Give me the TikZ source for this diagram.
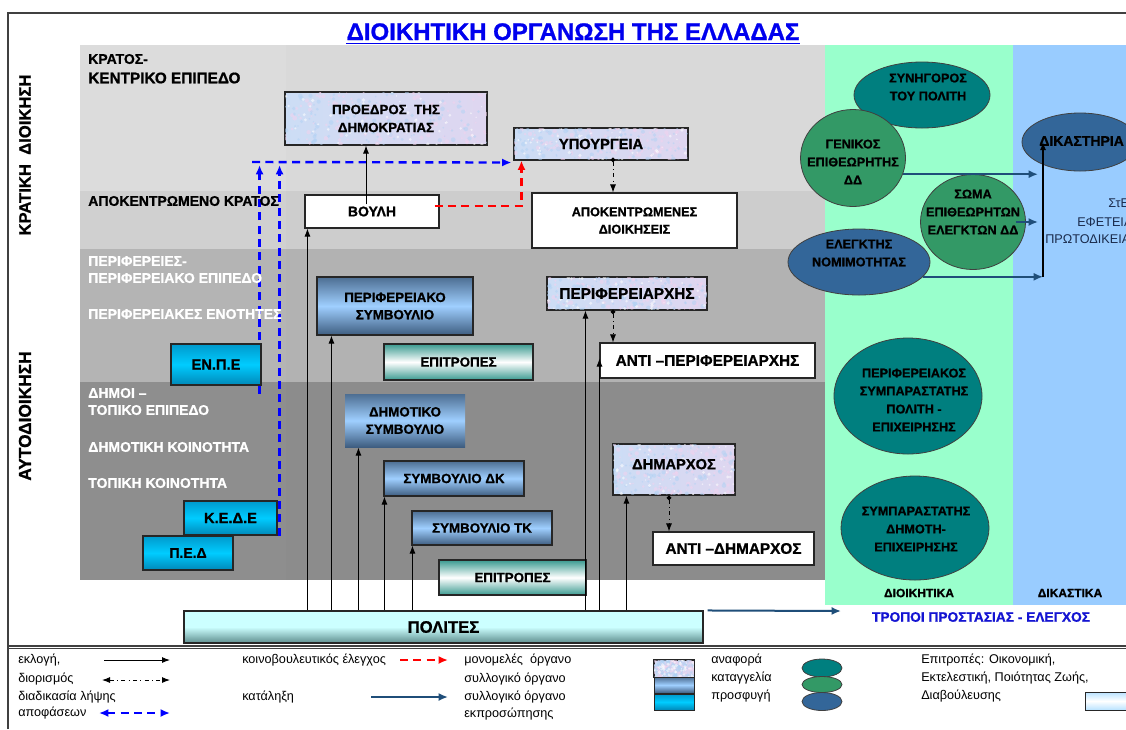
\documentclass[tikz,border=0pt]{standalone}
\usepackage{fontspec}
\setmainfont{Liberation Sans}[BoldFeatures={FakeBold=1}]
\usetikzlibrary{shapes.geometric,arrows.meta,calc}
\definecolor{rowA}{HTML}{D9D9D9}
\definecolor{rowAl}{HTML}{DCDCDC}
\definecolor{rowB}{HTML}{CDCDCD}
\definecolor{rowBl}{HTML}{D0D0D0}
\definecolor{rowC}{HTML}{B2B2B2}
\definecolor{rowCl}{HTML}{B4B4B4}
\definecolor{rowD}{HTML}{8C8C8C}
\definecolor{rowDl}{HTML}{8E8E8E}
\definecolor{greenband}{HTML}{99FFCC}
\definecolor{blueband}{HTML}{99CCFF}
\definecolor{tealE}{HTML}{007F7F}
\definecolor{greenE}{HTML}{339966}
\definecolor{blueE}{HTML}{336699}
\definecolor{navy}{HTML}{1F4E79}
\definecolor{titleblue}{HTML}{0000EE}
\definecolor{tropblue}{HTML}{1414D2}
\definecolor{dashblue}{HTML}{0000FF}
\definecolor{texA}{HTML}{CCDDF5}
\definecolor{texB}{HTML}{DFD6F0}
\definecolor{spPink}{HTML}{F2D2EE}
\definecolor{spBlue}{HTML}{B0D2F4}
\definecolor{bbTop}{HTML}{4D6E92}
\definecolor{bbMid}{HTML}{9FCFFF}
\definecolor{bbBot}{HTML}{3E5D80}
\definecolor{cyTop}{HTML}{0099CC}
\definecolor{cyMid}{HTML}{00CCFF}
\definecolor{cyBot}{HTML}{0088B8}
\definecolor{epEdge}{HTML}{3A9A90}
\definecolor{polTop}{HTML}{CCFFFF}
\definecolor{polBot}{HTML}{5E8E8E}
\definecolor{framec}{HTML}{404040}
\definecolor{courtxt}{HTML}{1A2B4C}
\definecolor{lgTop}{HTML}{B8E2FF}
\pgfdeclarelayer{bg}
\pgfdeclarelayer{mid}
\pgfsetlayers{bg,mid,main}
\newcommand\fs[2]{\fontsize{#1}{#2}\selectfont}
\newcommand\mkbox[7]{%
  \pgfmathsetmacro\mkw{((#5)-(#3))*0.75}%
  \pgfmathsetmacro\mkh{((#6)-(#4))*0.75}%
  \node[#2,minimum width=\mkw pt,minimum height=\mkh pt] (#1) at ({((#3)+(#5))/2},{((#4)+(#6))/2}) {#7};}
% mottled ("tissue paper") box: frame, speckles, then the text as its own node
\newcommand\speckle[1]{%
  \begin{scope}
  \clip (#1.south west) rectangle (#1.north east);
  \foreach \i in {1,...,110}{%
    \pgfmathsetmacro\ra{rnd}\pgfmathsetmacro\rb{rnd}\pgfmathsetmacro\rr{0.6+1.2*rnd}%
    \coordinate (spA) at ($(#1.south west)!\ra!(#1.south east)$);
    \coordinate (spB) at ($(#1.north west)!\ra!(#1.north east)$);
    \fill[spPink, opacity=0.55] ($(spA)!\rb!(spB)$) circle (\rr pt);}
  \foreach \i in {1,...,110}{%
    \pgfmathsetmacro\ra{rnd}\pgfmathsetmacro\rb{rnd}\pgfmathsetmacro\rr{0.6+1.2*rnd}%
    \coordinate (spA) at ($(#1.south west)!\ra!(#1.south east)$);
    \coordinate (spB) at ($(#1.north west)!\ra!(#1.north east)$);
    \fill[spBlue, opacity=0.5] ($(spA)!\rb!(spB)$) circle (\rr pt);}
  \foreach \i in {1,...,60}{%
    \pgfmathsetmacro\ra{rnd}\pgfmathsetmacro\rb{rnd}\pgfmathsetmacro\rr{0.5+0.9*rnd}%
    \coordinate (spA) at ($(#1.south west)!\ra!(#1.south east)$);
    \coordinate (spB) at ($(#1.north west)!\ra!(#1.north east)$);
    \fill[white, opacity=0.55] ($(spA)!\rb!(spB)$) circle (\rr pt);}
  \end{scope}
  \draw[black!85, line width=0.8pt] (#1.south west) rectangle (#1.north east);}
\newcommand\texbox[7]{%
  \mkbox{#1}{texbx}{#3}{#4}{#5}{#6}{}%
  \speckle{#1}%
  \node[inner sep=0pt, align=center, #2] (#1t) at (#1.center) {#7};}
\tikzset{
  bx/.style={draw=black!85, line width=0.8pt, inner sep=0pt, align=center},
  whitebx/.style={bx, fill=white},
  texbx/.style={bx, left color=texA, right color=texB},
  bluebx/.style={bx, top color=bbTop, bottom color=bbBot, middle color=bbMid},
  cyanbx/.style={bx, top color=cyTop, bottom color=cyBot, middle color=cyMid},
  epibx/.style={bx, top color=epEdge, bottom color=epEdge, middle color=white},
  polbx/.style={bx, top color=polTop, bottom color=polBot, middle color=polTop},
  lgbx/.style={bx, top color=lgTop, bottom color=lgTop, middle color=white},
  ell/.style={ellipse, draw=black!75, line width=0.6pt, inner sep=0pt},
  elltxt/.style={align=center, font=\bfseries\fs{9.5}{13.5}, inner sep=0pt},
  rowlab/.style={anchor=west, inner sep=0pt, font=\bfseries\fs{10.5}{13}},
  legtxt/.style={anchor=west, inner sep=0pt, font=\fs{9.5}{11}},
  arr/.style={draw=black, line width=0.7pt, -{Latex[length=6pt,width=4.5pt]}},
  apptarr/.style={draw=black, line width=0.7pt, dash pattern=on 3pt off 2.5pt on 0.8pt off 2.5pt,
    {Circle[length=3.5pt]}-{Latex[length=6pt,width=4.5pt]}},
  bluedash/.style={draw=dashblue, line width=1.8pt, dash pattern=on 6pt off 4pt,
    -{Latex[length=7pt,width=6pt]}},
  reddash/.style={draw=red, line width=1.6pt, dash pattern=on 6pt off 4pt,
    -{Latex[length=7pt,width=6pt]}},
  navyarr/.style={draw=navy, line width=1.5pt, -{Latex[length=7pt,width=6pt]}},
}
\begin{document}
\begin{tikzpicture}[x=0.75pt,y=-0.75pt]
\pgfmathsetseed{7}
\useasboundingbox (0,0) rectangle (1126,729);
\clip (0,0) rectangle (1126,729);
\begin{pgfonlayer}{bg}
\fill[white] (0,0) rectangle (1126,729);
\fill[rowAl] (80,45) rectangle (286,191);
\fill[rowA] (286,45) rectangle (825,191);
\fill[rowBl] (80,191) rectangle (286,249);
\fill[rowB] (286,191) rectangle (825,249);
\fill[rowCl] (80,249) rectangle (286,382);
\fill[rowC] (286,249) rectangle (825,382);
\fill[rowDl] (80,382) rectangle (286,580);
\fill[rowD] (286,382) rectangle (825,580);
\fill[greenband] (825,45) rectangle (1013,605);
\fill[blueband] (1013,45) rectangle (1126,605);
\draw[framec, line width=1pt] (8,729) -- (8,13) -- (1126,13);
\draw[framec, line width=0.9pt] (8,646) -- (1126,646);
\draw[framec, line width=0.6pt] (8,648.5) -- (1126,648.5);
\end{pgfonlayer}

% title
\node[font=\bfseries\fs{18}{22}, text=titleblue, anchor=base, inner sep=0pt] (title) at (573,40) {ΔΙΟΙΚΗΤΙΚΗ ΟΡΓΑΝΩΣΗ ΤΗΣ ΕΛΛΑΔΑΣ};
\draw[titleblue, line width=1.3pt] ($(title.base west)+(0,3.5)$) -- ($(title.base east)+(0,3.5)$);

% side labels
\node[rotate=90, inner sep=0pt, font=\bfseries\fs{12.5}{14}] (kratiki) at (25,155) {ΚΡΑΤΙΚΗ\ \ ΔΙΟΙΚΗΣΗ};
\node[rotate=90, inner sep=0pt, font=\bfseries\fs{13}{14}] (aytodioik) at (25,416) {ΑΥΤΟΔΙΟΙΚΗΣΗ};

% row labels
\node[rowlab] (l1) at (88,59) {ΚΡΑΤΟΣ-};
\node[rowlab, font=\bfseries\fs{11.5}{13}] (l2) at (88,78) {ΚΕΝΤΡΙΚΟ ΕΠΙΠΕΔΟ};
\node[rowlab] (l3) at (88,201) {ΑΠΟΚΕΝΤΡΩΜΕΝΟ ΚΡΑΤΟΣ};
\node[rowlab, text=white] (l4) at (88,261) {ΠΕΡΙΦΕΡΕΙΕΣ-};
\node[rowlab, text=white] (l5) at (88,278) {ΠΕΡΙΦΕΡΕΙΑΚΟ ΕΠΙΠΕΔΟ};
\node[rowlab, text=white] (l6) at (88,314) {ΠΕΡΙΦΕΡΕΙΑΚΕΣ ΕΝΟΤΗΤΕΣ};
\node[rowlab, text=white] (l7) at (88,393) {ΔΗΜΟΙ –};
\node[rowlab, text=white] (l8) at (88,410) {ΤΟΠΙΚΟ ΕΠΙΠΕΔΟ};
\node[rowlab, text=white] (l9) at (88,447) {ΔΗΜΟΤΙΚΗ ΚΟΙΝΟΤΗΤΑ};
\node[rowlab, text=white] (l10) at (88,483) {ΤΟΠΙΚΗ ΚΟΙΝΟΤΗΤΑ};

% boxes
\texbox{proedros}{font=\bfseries\fs{10}{13.5}}{285}{92}{487}{145}{ΠΡΟΕΔΡΟΣ\ \ ΤΗΣ\\ΔΗΜΟΚΡΑΤΙΑΣ}
\texbox{ypo}{font=\bfseries\fs{11}{13}}{514}{128}{688}{160}{ΥΠΟΥΡΓΕΙΑ}
\mkbox{vouli}{whitebx, font=\bfseries\fs{10.5}{13}}{305}{195}{439}{228}{ΒΟΥΛΗ}
\mkbox{apok}{whitebx, font=\bfseries\fs{9.5}{13}}{532}{193}{737}{248}{ΑΠΟΚΕΝΤΡΩΜΕΝΕΣ\\ΔΙΟΙΚΗΣΕΙΣ}
\mkbox{persymv}{bluebx, font=\bfseries\fs{10}{13}}{317}{277}{473}{335}{ΠΕΡΙΦΕΡΕΙΑΚΟ\\ΣΥΜΒΟΥΛΙΟ}
\mkbox{epit1}{epibx, font=\bfseries\fs{10}{13}}{384}{344}{533}{380}{ΕΠΙΤΡΟΠΕΣ}
\texbox{perarx}{font=\bfseries\fs{11.5}{13}}{547}{277}{707}{310}{ΠΕΡΙΦΕΡΕΙΑΡΧΗΣ}
\mkbox{antiper}{whitebx, font=\bfseries\fs{11.5}{13}}{600}{343}{815}{378}{ΑΝΤΙ –ΠΕΡΙΦΕΡΕΙΑΡΧΗΣ}
\mkbox{enpe}{cyanbx, font=\bfseries\fs{11}{13}}{171}{344}{261}{385}{ΕΝ.Π.Ε}
\mkbox{dimsymv}{bluebx, draw=none, font=\bfseries\fs{10}{13}}{345}{394}{465}{447}{ΔΗΜΟΤΙΚΟ\\ΣΥΜΒΟΥΛΙΟ}
\mkbox{symdk}{bluebx, font=\bfseries\fs{10}{13}}{384}{461}{524}{496}{ΣΥΜΒΟΥΛΙΟ ΔΚ}
\mkbox{symtk}{bluebx, font=\bfseries\fs{10}{13}}{412}{511}{552}{545}{ΣΥΜΒΟΥΛΙΟ ΤΚ}
\mkbox{epit2}{epibx, font=\bfseries\fs{10}{13}}{439}{560}{586}{595}{ΕΠΙΤΡΟΠΕΣ}
\texbox{dimarx}{font=\bfseries\fs{11}{13}, yshift=4pt}{613}{444}{735}{495}{ΔΗΜΑΡΧΟΣ}
\mkbox{antidim}{whitebx, font=\bfseries\fs{11.5}{13}}{653}{532}{814}{565}{ΑΝΤΙ –ΔΗΜΑΡΧΟΣ}
\mkbox{kede}{cyanbx, font=\bfseries\fs{11}{13}}{184}{501}{277}{535}{Κ.Ε.Δ.Ε}
\mkbox{ped}{cyanbx, font=\bfseries\fs{10.5}{13}}{143}{536}{233}{570}{Π.Ε.Δ}
\mkbox{polites}{polbx, font=\bfseries\fs{12.5}{14}}{184}{611}{703}{643}{ΠΟΛΙΤΕΣ}

% decision process (blue dashed), behind boxes
\coordinate (bh) at (252,162);
\coordinate (e1) at ($(enpe.south east)+(-2,8)$);
\coordinate (e2) at ($(kede.south east)+(2,0)$);
\begin{pgfonlayer}{mid}
\draw[bluedash] (bh) -- ($(ypo.south west)+(-2,2)$);
\draw[bluedash] (e1) -- ($(e1 |- bh)+(0,3)$);
\draw[bluedash] (e2) -- ($(e2 |- bh)+(0,3)$);
\end{pgfonlayer}

% ellipses
\node[ell, fill=tealE, minimum width=102pt, minimum height=49.5pt] (synig) at (922,95) {};
\node[ell, fill=greenE, minimum width=78.75pt, minimum height=72.75pt] (genikos) at (853,158) {};
\node[ell, fill=greenE, minimum width=78.75pt, minimum height=71.25pt] (soma) at (973,222) {};
\node[ell, fill=blueE, minimum width=106.5pt, minimum height=49.5pt] (elegk) at (859,262) {};
\node[ell, fill=blueE, minimum width=87pt, minimum height=43.5pt] (dikast) at (1080,142) {};
\node[ell, fill=tealE, minimum width=111pt, minimum height=87pt] (persymp) at (908,396) {};
\node[ell, fill=tealE, minimum width=111pt, minimum height=78pt] (symdim) at (915,528) {};
\node[elltxt] (synigt) at (928,87) {ΣΥΝΗΓΟΡΟΣ\\ΤΟΥ ΠΟΛΙΤΗ};
\node[elltxt] (genikost) at (853,162) {ΓΕΝΙΚΟΣ\\ΕΠΙΘΕΩΡΗΤΗΣ\\ΔΔ};
\node[elltxt] (somat) at (973,212) {ΣΩΜΑ\\ΕΠΙΘΕΩΡΗΤΩΝ\\ΕΛΕΓΚΤΩΝ ΔΔ};
\node[elltxt] (elegkt) at (859,253) {ΕΛΕΓΚΤΗΣ\\ΝΟΜΙΜΟΤΗΤΑΣ};
\node[elltxt, anchor=west, font=\bfseries\fs{10.5}{13}] (dikastt) at (1039,141) {ΔΙΚΑΣΤΗΡΙΑ};
\node[elltxt] (persympt) at (914,400) {ΠΕΡΙΦΕΡΕΙΑΚΟΣ\\ΣΥΜΠΑΡΑΣΤΑΤΗΣ\\ΠΟΛΙΤΗ -\\ΕΠΙΧΕΙΡΗΣΗΣ};
\node[elltxt] (symdimt) at (916,529) {ΣΥΜΠΑΡΑΣΤΑΤΗΣ\\ΔΗΜΟΤΗ-\\ΕΠΙΧΕΙΡΗΣΗΣ};

% court text (runs past the right edge, as in the original)
\node[anchor=west, inner sep=0pt, text=courtxt, font=\fs{9.5}{11}] (ste) at (1108,203) {ΣτΕ};
\node[anchor=west, inner sep=0pt, text=courtxt, font=\fs{9.5}{11}] (efet) at (1077,222) {ΕΦΕΤΕΙΑ};
\node[anchor=west, inner sep=0pt, text=courtxt, font=\fs{9.5}{11}] (protod) at (1045,239) {ΠΡΩΤΟΔΙΚΕΙΑ};

% bottom texts
\node[inner sep=0pt, font=\bfseries\fs{9}{10}] (dioikitika) at (919,593) {ΔΙΟΙΚΗΤΙΚΑ};
\node[inner sep=0pt, font=\bfseries\fs{9}{10}] (dikastika) at (1070,593) {ΔΙΚΑΣΤΙΚΑ};
\node[inner sep=0pt, text=tropblue, font=\bfseries\fs{10.3}{12}] (tropoi) at (981,617) {ΤΡΟΠΟΙ ΠΡΟΣΤΑΣΙΑΣ - ΕΛΕΓΧΟΣ};

% election arrows from citizens
\coordinate (v1) at ($(vouli.south west)+(3,0)$);
\coordinate (v2) at ($(persymv.south west)+(15,0)$);
\coordinate (v3) at ($(dimsymv.south west)+(14,0)$);
\coordinate (v4) at ($(symdk.south west)+(1,0)$);
\coordinate (v5) at ($(symtk.south west)+(1,0)$);
\coordinate (v6) at ($(perarx.south west)+(39,0)$);
\coordinate (v7) at ($(antiper.west)+(0,-2)$);
\coordinate (v8) at ($(dimarx.south west)+(14,0)$);
\foreach \v in {v1,v2,v3,v4,v5,v6,v7,v8}
  \draw[arr] (polites.north -| \v) -- (\v);

% parliament -> president
\coordinate (vp) at ($(vouli.north)+(-6,10)$);
\draw[arr] (vp) -- (vp |- proedros.south);

% parliamentary control (red)
\coordinate (r1) at ($(vouli.east)+(-5,-5.5)$);
\coordinate (r2) at ($(ypo.south west)+(8,0)$);
\draw[reddash] (r1) -| (r2);

% appointment (dot-dash)
\coordinate (d1) at ($(ypo.south)+(12,-3)$);
\draw[apptarr] (d1) -- (d1 |- apok.north);
\coordinate (d2) at ($(perarx.south)+(-14,-1)$);
\draw[apptarr] (d2) -- (d2 |- antiper.north);
\coordinate (d3) at ($(dimarx.south)+(-5,0)$);
\draw[apptarr] (d3) -- (d3 |- antidim.north);

% recourse arrows (navy)
\coordinate (dkv) at (1043,277);
\draw[navyarr] (genikos.-18) -- ($(genikos.-18 -| dkv)+(-5,0)$);
\coordinate (s1) at ($(soma.east)+(-10,0)$);
\draw[navyarr] (s1) -- ($(s1 -| dkv)+(-5,0)$);
\draw[navyarr] (elegk.-13) -- (elegk.-13 -| dkv);
\draw[arr, line width=0.9pt] (dkv) -- (dkv |- dikast.center);
\coordinate (tropoiArr) at (841,611);
\draw[navyarr] ($(polites.north east)+(4,0)$) -- (tropoiArr);

% legend
\node[legtxt] (lg1) at (18,660) {εκλογή,};
\node[legtxt] (lg2) at (18,679) {διορισμός};
\node[legtxt] (lg3) at (18,697) {διαδικασία λήψης};
\node[legtxt] (lg4) at (18,713) {αποφάσεων};
\draw[arr] (104,660) -- (170,660);
\draw[apptarr, {Latex[length=6pt,width=4.5pt]}-{Latex[length=6pt,width=4.5pt]}] (102,680) -- (170,680);
\draw[bluedash, {Latex[length=7pt,width=6pt]}-{Latex[length=7pt,width=6pt]}] (99,713) -- (170,713);
\node[legtxt] (lg5) at (242,660) {κοινοβουλευτικός έλεγχος};
\node[legtxt] (lg6) at (242,697) {κατάληξη};
\draw[reddash] (400,660) -- (448,660);
\draw[navyarr, line width=2pt] (371,697) -- (448,697);
\node[legtxt] (lg7) at (464,660) {μονομελές\ \ όργανο};
\node[legtxt] (lg8) at (464,679) {συλλογικό όργανο};
\node[legtxt] (lg9) at (464,697) {συλλογικό όργανο};
\node[legtxt] (lg10) at (464,714) {εκπροσώπησης};
\mkbox{lr1}{texbx, line width=0.7pt}{654}{660}{694}{677}{}
\speckle{lr1}
\mkbox{lr2}{bluebx, line width=0.7pt}{654}{677}{694}{693}{}
\mkbox{lr3}{cyanbx, line width=0.7pt}{654}{694}{694}{710}{}
\node[legtxt] (lg11) at (711,660) {αναφορά};
\node[legtxt] (lg12) at (711,678) {καταγγελία};
\node[legtxt] (lg13) at (711,696) {προσφυγή};
\node[ell, fill=tealE, minimum width=30pt, minimum height=13.5pt] (le1) at (822,668) {};
\node[ell, fill=greenE, minimum width=30pt, minimum height=12pt] (le2) at (822,684.5) {};
\node[ell, fill=blueE, minimum width=30pt, minimum height=13.5pt] (le3) at (822,701.5) {};
\node[legtxt] (lg14) at (921,660) {Επιτροπές: Οικονομική,};
\node[legtxt] (lg15) at (921,678) {Εκτελεστική, Ποιότητας Ζωής,};
\node[legtxt] (lg16) at (921,696) {Διαβούλευσης};
\mkbox{lr4}{lgbx, line width=0.7pt}{1085}{692}{1135}{710}{}
\end{tikzpicture}
\end{document}
